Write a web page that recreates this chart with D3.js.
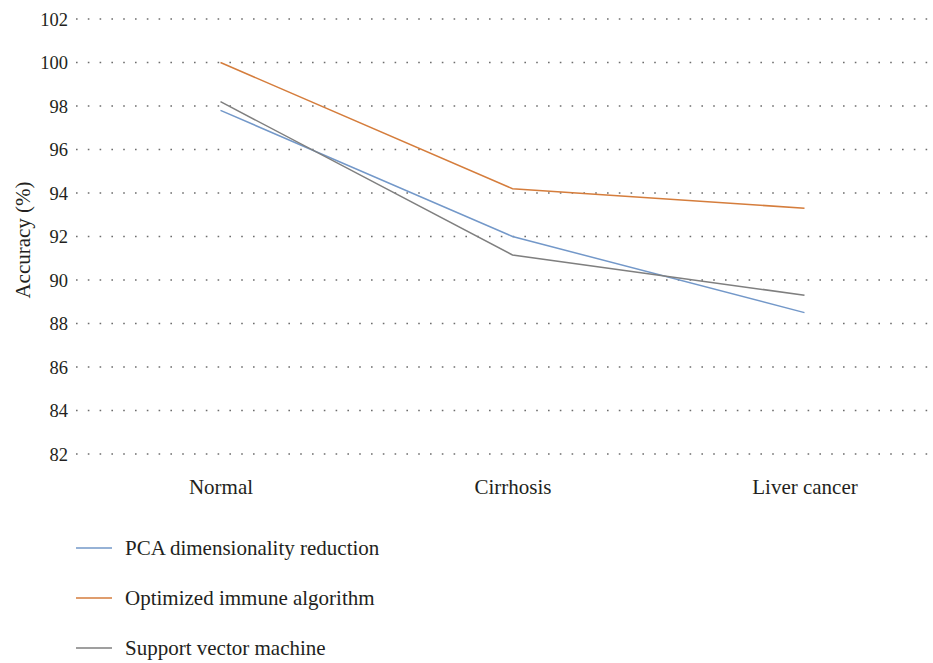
<!DOCTYPE html>
<html><head><meta charset="utf-8">
<script src="https://cdn.jsdelivr.net/npm/d3@7"></script>
<style>
body{margin:0;background:#fff;}
text{font-family:"Liberation Serif","DejaVu Serif",serif;fill:#231f20;}
</style></head>
<body><svg id="c" width="933" height="663"></svg>
<script>
const categories = ["Normal", "Cirrhosis", "Liver cancer"];
const seriesNames = ["PCA dimensionality reduction", "Optimized immune algorithm", "Support vector machine"];
const pcaValues = [97.8, 92.0, 88.5];
const immuneValues = [100.0, 94.2, 93.3];
const svmValues = [98.2, 91.15, 89.3];
const yTicks = [82, 84, 86, 88, 90, 92, 94, 96, 98, 100, 102];
const colors = ["#7398c9", "#d57d3c", "#7f7f7f"];
const series = [pcaValues, immuneValues, svmValues];

const svg = d3.select("#c");
const x = d3.scalePoint().domain(categories).range([220.5, 804.5]);
const y = d3.scaleLinear().domain([82, 102]).range([454, 19]);

// grid
const grid = svg.append("g");
grid.selectAll("line").data(yTicks).join("line")
  .attr("x1", 76).attr("x2", 933)
  .attr("y1", d => y(d)).attr("y2", d => y(d))
  .attr("stroke", "#6d6d6d").attr("stroke-width", 1.6)
  .attr("stroke-dasharray", "1.6 10.2");

// y axis labels
const yAxis = d3.axisLeft(y).tickValues(yTicks).tickSize(0).tickPadding(0);
const ga = svg.append("g").attr("transform", "translate(68,0)").call(yAxis);
ga.select(".domain").remove();
ga.selectAll("text").style("font-size", "18.5px").attr("dy", "0.34em")
  .style("font-family", '"Liberation Serif",serif').attr("fill", "#231f20");

// x axis labels
const xAxis = d3.axisBottom(x).tickSize(0).tickPadding(0);
const gx = svg.append("g").attr("transform", "translate(0,481)").call(xAxis);
gx.select(".domain").remove();
gx.selectAll("text").style("font-size", "21px").attr("dy", "0.6em")
  .style("font-family", '"Liberation Serif",serif').attr("fill", "#231f20");

// y title
svg.append("text").attr("transform", "translate(23,240) rotate(-90)")
  .attr("text-anchor", "middle").attr("dy", "0.33em").style("font-size", "21px").text("Accuracy (%)");

// lines
const line = d3.line().x((d, i) => x(categories[i])).y(d => y(d));
series.forEach((s, k) => {
  svg.append("path").datum(s).attr("d", line)
    .attr("fill", "none").attr("stroke", colors[k]).attr("stroke-width", 1.5);
});

// legend
const lg = svg.append("g");
seriesNames.forEach((n, k) => {
  const yy = 548 + k * 50;
  lg.append("line").attr("x1", 76).attr("x2", 112).attr("y1", yy).attr("y2", yy)
    .attr("stroke", colors[k]).attr("stroke-width", 1.3);
  lg.append("text").attr("x", 125).attr("y", yy).attr("dy", "0.33em")
    .style("font-size", "21px").text(n);
});
</script></body></html>
